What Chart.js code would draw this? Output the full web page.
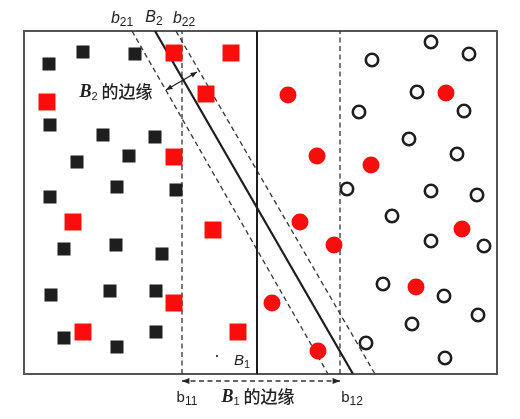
<!DOCTYPE html>
<html>
<head>
<meta charset="utf-8">
<script src="https://cdn.jsdelivr.net/npm/chart.js@4/dist/chart.umd.min.js"></script>
<style>
html,body{margin:0;padding:0;background:#fff;}
canvas{display:block;}
</style>
</head>
<body>
<canvas id="c" width="520" height="419"></canvas>
<script>
// data coordinates: x from left frame edge, y up from bottom frame edge
const blackSquares = [[59,322],[25,310],[111,320],[26,249],[79,239],[131,237],[53,212],[105,218],[93,187],[152,184],[26,177],[40,125],[92,129],[138,120],[27,79],[86,83],[132,83],[40,36],[93,27],[132,42]];
const redSquares = [[150,321],[207,321],[23,272],[182,280],[150,217],[49,152],[189,144],[150,71],[59,42],[214,42]];
const redCircles = [[264,279],[293,218],[347,209],[422,281],[276,152],[310,129],[248,71],[294,23],[438,145],[392,87]];
const openCircles = [[407,332],[348,314],[445,320],[393,282],[335,262],[440,263],[385,235],[433,220],[323,185],[407,183],[453,179],[368,158],[407,133],[460,128],[359,90],[420,78],[454,59],[388,50],[342,31],[421,16]];

// boundary lines (endpoints in data units)
const lineB1 = [[233,0],[233,343]];
const lineB11 = [[158,0],[158,343]];
const lineB12 = [[316,0],[316,343]];
const lineB2 = [[131,343],[329,0]];
const lineB21 = [[108,343],[304,0]];
const lineB22 = [[152,343],[351,0]];
const marginB2 = [[142,284],[173,302]];
const marginB1 = [[158,-7],[316,-7]];

// labels: [base, subscript, suffix, x, y]
const topLabels = [['b','21','',98,356],['B','2','',130,357],['b','22','',160,356]];
const bottomLabels = [['b','11','',163,-23],['b','12','',328,-23]];
const marginLabels = [['B','2',' 的边缘',92,282],['B','1',' 的边缘',234,-23]];
const innerLabels = [['B','1','',218,14]];

const pts = a => a.map(p => ({x:p[0], y:p[1]}));

function lineDs(arr, dashed, width, color, clip) {
  return {
    type: 'scatter', data: pts(arr), showLine: true, pointRadius: 0,
    borderColor: color, borderWidth: width, borderDash: dashed ? [5,3.5] : [],
    fill: false, order: 5, clip: clip === false ? false : 0
  };
}

const helpers = {
  id: 'helpers',
  beforeDatasetsDraw(chart) {
    const {ctx, chartArea: a} = chart;
    ctx.save();
    ctx.strokeStyle = '#555';
    ctx.lineWidth = 2;
    ctx.strokeRect(a.left, a.top, a.right - a.left, a.bottom - a.top);
    ctx.restore();
  },
  afterDatasetsDraw(chart) {
    const {ctx} = chart;
    const xs = chart.scales.x, ys = chart.scales.y;
    const P = (x, y) => [xs.getPixelForValue(x), ys.getPixelForValue(y)];

    function arrowHead(from, to, size) {
      const [x1,y1] = P(from[0], from[1]);
      const [x2,y2] = P(to[0], to[1]);
      const ang = Math.atan2(y2-y1, x2-x1);
      ctx.beginPath();
      ctx.moveTo(x2, y2);
      ctx.lineTo(x2 - size*Math.cos(ang - 0.4), y2 - size*Math.sin(ang - 0.4));
      ctx.lineTo(x2 - size*Math.cos(ang + 0.4), y2 - size*Math.sin(ang + 0.4));
      ctx.closePath();
      ctx.fill();
    }
    ctx.save();
    ctx.fillStyle = '#222';
    arrowHead(marginB2[0], marginB2[1], 7);
    arrowHead(marginB2[1], marginB2[0], 7);
    arrowHead(marginB1[0], marginB1[1], 8);
    arrowHead(marginB1[1], marginB1[0], 8);

    // small dot
    const [dx, dy] = P(193, 18);
    ctx.fillStyle = '#444';
    ctx.fillRect(dx-1, dy-1, 2, 2);

    function label(l, baseFont, subFont, sufFont) {
      const [base, sub, suf, x, y] = l;
      ctx.font = baseFont; const wb = ctx.measureText(base).width;
      ctx.font = subFont; const ws = ctx.measureText(sub).width;
      ctx.font = sufFont; const wf = suf ? ctx.measureText(suf).width : 0;
      const [px, py] = P(x, y);
      let cx = px - (wb + ws + wf) / 2;
      ctx.fillStyle = '#222';
      ctx.textBaseline = 'alphabetic';
      ctx.textAlign = 'left';
      ctx.font = baseFont; ctx.fillText(base, cx, py + 5); cx += wb;
      ctx.font = subFont; ctx.fillText(sub, cx, py + 8); cx += ws;
      if (suf) { ctx.font = sufFont; ctx.fillText(suf, cx, py + 6); }
    }
    topLabels.forEach(l => label(l, 'italic 16px "Liberation Sans"', '12px "Liberation Sans"', '15px "Noto Sans CJK SC"'));
    bottomLabels.forEach(l => label(l, '15px "Liberation Sans"', '12px "Liberation Sans"', '15px "Noto Sans CJK SC"'));
    marginLabels.forEach(l => label(l, 'italic bold 18px "Liberation Serif"', '11px "Liberation Sans"', '500 17px "Noto Sans CJK SC"'));
    innerLabels.forEach(l => label(l, 'italic 15px "Liberation Sans"', '11px "Liberation Sans"', '15px "Noto Sans CJK SC"'));
    ctx.restore();
  }
};

new Chart(document.getElementById('c'), {
  type: 'scatter',
  data: {
    datasets: [
      {data: pts(blackSquares), pointStyle: 'rect', pointRadius: 9.2, backgroundColor: '#1e1e1e', borderColor: '#1e1e1e', borderWidth: 0, order: 1},
      {data: pts(redSquares), pointStyle: 'rect', pointRadius: 12, backgroundColor: '#fb0d0d', borderColor: '#fb0d0d', borderWidth: 0, order: 1},
      {data: pts(redCircles), pointStyle: 'circle', pointRadius: 8.5, backgroundColor: '#fb0d0d', borderColor: '#fb0d0d', borderWidth: 0, order: 1},
      {data: pts(openCircles), pointStyle: 'circle', pointRadius: 6.2, backgroundColor: '#fff', borderColor: '#1e1e1e', borderWidth: 2.6, order: 1},
      lineDs(lineB1, false, 2, '#1e1e1e'),
      lineDs(lineB2, false, 2.2, '#1e1e1e'),
      lineDs(lineB11, true, 1.3, '#333'),
      lineDs(lineB12, true, 1.3, '#333'),
      lineDs(lineB21, true, 1.3, '#333'),
      lineDs(lineB22, true, 1.3, '#333'),
      lineDs(marginB2, false, 1.3, '#222'),
      lineDs(marginB1, true, 1.3, '#333', false)
    ]
  },
  options: {
    responsive: false,
    devicePixelRatio: 1,
    animation: false,
    events: [],
    layout: {padding: {left: 24, top: 31, right: 23, bottom: 45}},
    plugins: {legend: {display: false}, tooltip: {enabled: false}},
    scales: {
      x: {type: 'linear', min: 0, max: 473, display: false},
      y: {type: 'linear', min: 0, max: 343, display: false}
    }
  },
  plugins: [helpers]
});
</script>
</body>
</html>
